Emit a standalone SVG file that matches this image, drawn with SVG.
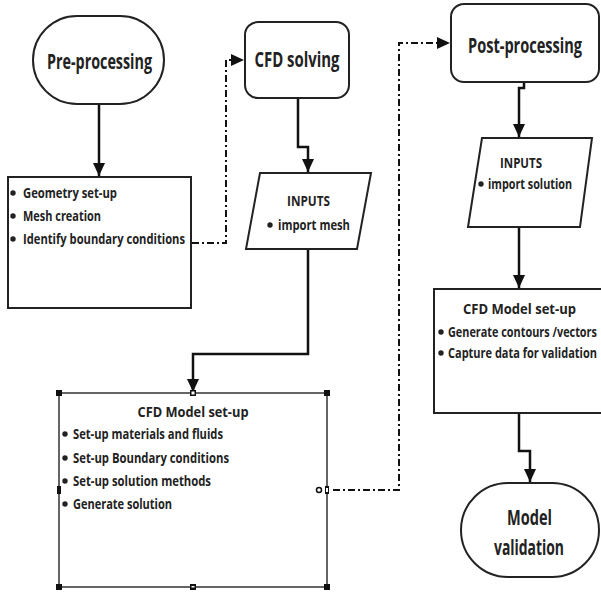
<svg xmlns="http://www.w3.org/2000/svg" width="601" height="594" viewBox="0 0 601 594">
<style>
.shape{fill:#fff;stroke:#222;stroke-width:2}
.thin{fill:#fff;stroke:#333;stroke-width:1.5}
.t{font-family:"Open Sans","Liberation Sans",sans-serif;font-weight:700;fill:#222}
.big{font-size:21px}
.mid{font-size:15px}
.sm{font-size:14px}
.solid{fill:none;stroke:#111;stroke-width:2.5}
.dd{fill:none;stroke:#111;stroke-width:2;stroke-dasharray:7 3 2 3}
.dot{fill:#222}
.h{fill:#111}
</style>
<defs>
<marker id="arr" markerUnits="userSpaceOnUse" markerWidth="14" markerHeight="14" viewBox="0 0 14 14" refX="13" refY="7" orient="auto">
<path d="M0,1 L13,7 L0,13 Z" fill="#111"/>
</marker>
</defs>

<g id="connectors">
<path class="solid" d="M99,104 V176" marker-end="url(#arr)"/>
<path class="dd" d="M192,243 H226 V60 H244" marker-end="url(#arr)"/>
<path class="solid" d="M298,98 V147 H308 V172" marker-end="url(#arr)"/>
<path class="solid" d="M308,249 V354 H193 V392" marker-end="url(#arr)"/>
<path class="dd" d="M333,490 H399 V43 H450" marker-end="url(#arr)"/>
<path class="solid" d="M524,82 V88 H519 V137" marker-end="url(#arr)"/>
<path class="solid" d="M519,227 V288" marker-end="url(#arr)"/>
<path class="solid" d="M519,413 V451 H530 V482" marker-end="url(#arr)"/>
</g>

<g id="pre-processing">
<rect class="shape" x="33" y="16" width="131" height="88" rx="44"/>
<text class="t big" x="99.5" y="69" text-anchor="middle" textLength="105" lengthAdjust="spacingAndGlyphs">Pre-processing</text>
</g>

<g id="geometry-box">
<rect class="shape" x="8" y="177" width="183" height="131"/>
<circle class="dot" cx="13" cy="193" r="2.7"/>
<text class="t mid" x="23" y="198" textLength="94" lengthAdjust="spacingAndGlyphs">Geometry set-up</text>
<circle class="dot" cx="13" cy="216" r="2.7"/>
<text class="t mid" x="23" y="221" textLength="78" lengthAdjust="spacingAndGlyphs">Mesh creation</text>
<circle class="dot" cx="13" cy="239" r="2.7"/>
<text class="t mid" x="23" y="244" textLength="162" lengthAdjust="spacingAndGlyphs">Identify boundary conditions</text>
</g>

<g id="cfd-solving">
<rect class="shape" x="245" y="22" width="104" height="76" rx="13"/>
<text class="t big" x="297" y="67" text-anchor="middle" textLength="85" lengthAdjust="spacingAndGlyphs">CFD solving</text>
</g>

<g id="inputs-mesh">
<polygon class="shape" points="260,173 371,173 357,249 246,249"/>
<text class="t sm" x="308.5" y="206" text-anchor="middle" textLength="43" lengthAdjust="spacingAndGlyphs">INPUTS</text>
<circle class="dot" cx="270" cy="225" r="2.7"/>
<text class="t sm" x="278" y="230" textLength="72" lengthAdjust="spacingAndGlyphs">import mesh</text>
</g>

<g id="cfd-model-setup-left">
<rect class="thin" x="59" y="393" width="268" height="194"/>
<rect class="h" x="56" y="390" width="6" height="6"/>
<rect class="h" x="324" y="390" width="6" height="6"/>
<rect class="h" x="56" y="584" width="6" height="6"/>
<rect class="h" x="324" y="584" width="6" height="6"/>
<rect class="h" x="190" y="390" width="6" height="6"/>
<rect x="191.5" y="391.5" width="3" height="3" fill="#fff"/>
<rect class="h" x="190" y="584" width="6" height="6"/>
<rect x="191.5" y="586" width="3" height="1.5" fill="#fff"/>
<rect class="h" x="57" y="486" width="4" height="8"/>
<rect class="h" x="325" y="486" width="4" height="8"/>
<rect x="326" y="488" width="2" height="4" fill="#fff"/>
<circle cx="319" cy="490" r="2.5" fill="#fff" stroke="#111" stroke-width="1.5"/>
<text class="t mid" x="193" y="417" text-anchor="middle" textLength="111" lengthAdjust="spacingAndGlyphs">CFD Model set-up</text>
<circle class="dot" cx="65" cy="434" r="2.7"/>
<text class="t sm" x="73" y="439" textLength="150" lengthAdjust="spacingAndGlyphs">Set-up materials and fluids</text>
<circle class="dot" cx="65" cy="458" r="2.7"/>
<text class="t sm" x="73" y="463" textLength="156" lengthAdjust="spacingAndGlyphs">Set-up Boundary conditions</text>
<circle class="dot" cx="65" cy="481" r="2.7"/>
<text class="t sm" x="73" y="486" textLength="138" lengthAdjust="spacingAndGlyphs">Set-up solution methods</text>
<circle class="dot" cx="65" cy="504" r="2.7"/>
<text class="t sm" x="73" y="509" textLength="99" lengthAdjust="spacingAndGlyphs">Generate solution</text>
</g>

<g id="post-processing">
<rect class="shape" x="451" y="4" width="148" height="78" rx="13"/>
<text class="t big" transform="translate(525,53) scale(0.75,1)" x="0" y="0" text-anchor="middle" textLength="152" lengthAdjust="spacingAndGlyphs">Post-processing</text>
</g>

<g id="inputs-solution">
<polygon class="shape" points="482,138 592,138 580,227 468,227"/>
<text class="t sm" x="521" y="168" text-anchor="middle" textLength="42" lengthAdjust="spacingAndGlyphs">INPUTS</text>
<circle class="dot" cx="481" cy="184" r="2.7"/>
<text class="t sm" x="488" y="189" textLength="84" lengthAdjust="spacingAndGlyphs">import solution</text>
</g>

<g id="cfd-model-setup-right">
<rect class="shape" x="434" y="289" width="170" height="124"/>
<text class="t mid" x="519.5" y="314" text-anchor="middle" textLength="113" lengthAdjust="spacingAndGlyphs">CFD Model set-up</text>
<circle class="dot" cx="441" cy="332" r="2.7"/>
<text class="t sm" transform="translate(448,337) scale(0.68,1)" x="0" y="0" textLength="219" lengthAdjust="spacingAndGlyphs">Generate contours /vectors</text>
<circle class="dot" cx="441" cy="353" r="2.7"/>
<text class="t sm" transform="translate(448,358) scale(0.68,1)" x="0" y="0" textLength="219" lengthAdjust="spacingAndGlyphs">Capture data for validation</text>
</g>

<g id="model-validation">
<rect class="shape" x="461" y="483" width="138" height="94" rx="47"/>
<text class="t big" x="529.5" y="525" text-anchor="middle" textLength="45" lengthAdjust="spacingAndGlyphs">Model</text>
<text class="t big" x="529" y="555" text-anchor="middle" textLength="70" lengthAdjust="spacingAndGlyphs">validation</text>
</g>
</svg>
